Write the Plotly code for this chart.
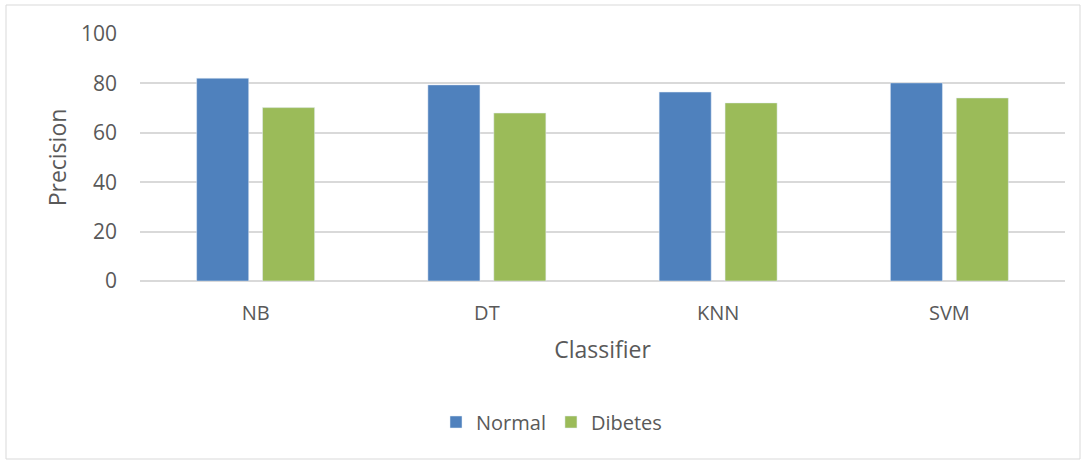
import plotly.graph_objects as go

# Precision per classifier for each class
classifiers = ["NB", "DT", "KNN", "SVM"]
normal = [82.1, 79.4, 76.5, 80.2]
dibetes = [70.2, 68.0, 72.1, 74.1]
y_ticks = [0, 20, 40, 60, 80, 100]

W, H = 1086, 461
L, R, T, B = 140, 21, 34, 180
pw, ph = W - L - R, H - T - B

def px_x(p):
    return (p - L) / pw

def px_y(p):
    return (H - B - p) / ph

text_color = "#595959"
font_family = "Open Sans, Liberation Sans, sans-serif"

fig = go.Figure()
fig.add_trace(go.Bar(x=classifiers, y=normal, name="Normal", marker_color="#4F81BD"))
fig.add_trace(go.Bar(x=classifiers, y=dibetes, name="Dibetes", marker_color="#9BBB59"))

fig.update_layout(
    width=W, height=H,
    margin=dict(l=L, r=R, t=T, b=B),
    paper_bgcolor="white", plot_bgcolor="white",
    barmode="group", bargap=0.43, bargroupgap=0.21,
    font=dict(family=font_family, size=20, color=text_color),
    showlegend=True,
    legend=dict(orientation="h", x=px_x(436), y=px_y(422), xanchor="left", yanchor="middle",
                font=dict(size=20, color=text_color), itemwidth=30, traceorder="normal"),
    xaxis=dict(showline=False, showgrid=False, ticks="", tickfont=dict(size=20),
               ticklabelstandoff=18,
               title=dict(text="Classifier", font=dict(size=23), standoff=16)),
    yaxis=dict(range=[0, 100], tickvals=y_ticks, showgrid=True, gridcolor="#D9D9D9", gridwidth=2,
               zeroline=True, zerolinecolor="#D9D9D9", zerolinewidth=2, showline=False,
               ticks="", ticklabelstandoff=22, tickfont=dict(size=21),
               title=dict(text="Precision", font=dict(size=23), standoff=7)),
    shapes=[dict(type="rect", xref="paper", yref="paper",
                 x0=px_x(6), x1=px_x(1080), y0=px_y(459), y1=px_y(5),
                 line=dict(color="#D9D9D9", width=1), fillcolor="rgba(0,0,0,0)", layer="below")],
)

fig.write_html("out.html")
